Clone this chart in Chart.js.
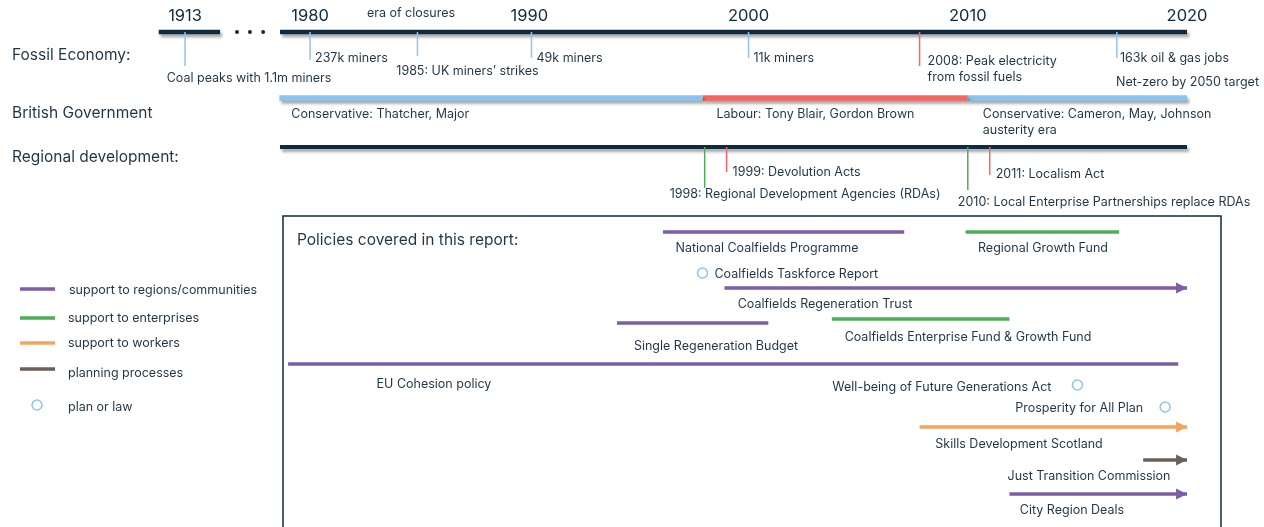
<!DOCTYPE html>
<html><head><meta charset="utf-8">
<script src="https://cdn.jsdelivr.net/npm/chart.js@4.4.1/dist/chart.umd.min.js"></script>
<style>html,body{margin:0;padding:0;background:#fff;overflow:hidden}#wrap{width:1264px;height:527px;position:relative}</style>
</head><body><div id="wrap"><canvas id="c" width="1264" height="527"></canvas></div>
<script>
// ================= DATA =================
const axisYears = [1913, 1980, 1990, 2000, 2010, 2020];
const closureEra = 'era of closures';

const fossilYears  = [1913, 1980, 1984.9, 1990.1, 2000, 2007.8, 2016.8];
const fossilLabels = ['Coal peaks with 1.1m miners', '237k miners', '1985: UK miners’ strikes', '49k miners', '11k miners', ['2008: Peak electricity', 'from fossil fuels'], '163k oil & gas jobs'];
const fossilKinds  = ['jobs', 'jobs', 'jobs', 'jobs', 'jobs', 'peak', 'jobs'];
const netZeroLabel = 'Net-zero by 2050 target';

const govStart  = [1978.6, 1997.9, 2010];
const govEnd    = [1997.9, 2010, 2020];
const govParty  = ['Conservative', 'Labour', 'Conservative'];
const govLabels = [['Conservative: Thatcher, Major'], ['Labour: Tony Blair, Gordon Brown'], ['Conservative: Cameron, May, Johnson', 'austerity era']];

const regionalYears  = [1998, 1999, 2010, 2011];
const regionalLabels = ['1998: Regional Development Agencies (RDAs)', '1999: Devolution Acts', '2010: Local Enterprise Partnerships replace RDAs', '2011: Localism Act'];
const regionalKinds  = ['agency', 'law', 'agency', 'law'];

const policyNames   = ['National Coalfields Programme', 'Regional Growth Fund', 'Coalfields Regeneration Trust', 'Single Regeneration Budget', 'Coalfields Enterprise Fund & Growth Fund', 'EU Cohesion policy', 'Skills Development Scotland', 'Just Transition Commission', 'City Region Deals'];
const policyStart   = [1996.1, 2009.9, 1998.9, 1994.0, 2003.8, 1979.0, 2007.8, 2018.0, 2011.9];
const policyEnd     = [2007.1, 2016.9, 2020, 2000.9, 2011.9, 2019.6, 2020, 2020, 2020];
const policyTypes   = ['regions', 'enterprises', 'regions', 'regions', 'enterprises', 'regions', 'workers', 'planning', 'regions'];
const policyOngoing = [false, false, true, false, false, false, true, true, true];

const planNames = ['Coalfields Taskforce Report', 'Well-being of Future Generations Act', 'Prosperity for All Plan'];
const planYears = [1997.9, 2015.0, 2019.0];

const legendKeys   = ['regions', 'enterprises', 'workers', 'planning', 'plan'];
const legendLabels = ['support to regions/communities', 'support to enterprises', 'support to workers', 'planning processes', 'plan or law'];

const rowTitles = ['Fossil Economy:', 'British Government', 'Regional development:'];
const boxTitle = 'Policies covered in this report:';

// ================= STYLE / LAYOUT =================
const FONT = 'Inter, "Noto Sans", sans-serif';
const TXT = '#1f3649';
const NAVY = '#0e2b41';
const typeColor = {regions: '#7b5ea7', enterprises: '#4caf58', workers: '#f4a45c', planning: '#6c5f58', plan: '#8ec5f0'};
const partyColor = {Conservative: '#8cc3ee', Labour: '#f66561'};
const kindColor = {jobs: '#8ec5f0', peak: '#f66561', agency: '#4caf58', law: '#f66561'};
// axis break: years before 1950 are drawn just left of the continuous scale
const brk = v => v < 1950 ? v + 61.3 : v;
const L = {
  mainY: 32, govY: 98, regY: 147,
  mainStart: 1978.63, earlySeg: [1911.8, 1914.6], breakDots: [1976.67, 1977.26, 1977.86],
  fossilTickEnd: [66, 60, 56, 58, 58, 66, 58],
  fossilLabel: [[64, 78, 'center'], [5, 58, 'left'], [50, 71, 'center'], [5, 58, 'left'], [5, 58, 'left'], [8, 61, 'left'], [3, 58, 'left']],
  netZero: [1116, 82],
  govLabel: [[12, 114], [14, 114], [15, 114]],
  regTickEnd: [188, 172, 190, 175],
  regLabel: [[-35, 194], [6, 172], [-10, 202], [6, 174]],
  policyY: [232, 232, 288, 323, 319, 364, 427, 460, 494],
  policyLabel: [[767, 248], [1043, 248], [825, 304], [716, 346], [968, 337], [434, 384], [1019, 444], [1089, 476], [1072, 510]],
  planY: [273, 385, 407],
  planLabel: [[12, 274, 'left'], [-26, 387, 'right'], [-22, 408, 'right']],
  box: [283, 216, 1221, 540],
  legendY: [289, 318, 343, 369, 405], legendTextY: [290, 318, 343, 373, 407],
  rowTitleY: [55, 113, 157]
};

// ================= DATASETS =================
const datasets = [];
const seg = (x0, x1, y, color, width, extra) => Object.assign({
  data: [{x: x0, y}, {x: x1, y}], borderColor: color, borderWidth: width,
  pointRadius: 0, showLine: true, clip: false, borderCapStyle: 'butt'
}, extra || {});
const vseg = (x, y0, y1, color) => ({
  data: [{x, y: y0}, {x, y: y1}], borderColor: color, borderWidth: 1.5,
  pointRadius: 0, showLine: true, clip: false
});
// vertical marker ticks (drawn first, below main lines)
fossilYears.forEach((yr, i) => datasets.push(vseg(brk(yr), L.mainY, L.fossilTickEnd[i], kindColor[fossilKinds[i]])));
regionalYears.forEach((yr, i) => datasets.push(vseg(yr, L.regY, L.regTickEnd[i], kindColor[regionalKinds[i]])));
// timeline bars
datasets.push(seg(brk(L.earlySeg[0]), brk(L.earlySeg[1]), L.mainY, NAVY, 4.5, {shadow: true}));
datasets.push(seg(L.mainStart, axisYears[axisYears.length - 1], L.mainY, NAVY, 4.5, {shadow: true}));
datasets.push({data: L.breakDots.map(x => ({x, y: L.mainY})), pointRadius: 2, pointBackgroundColor: NAVY, pointBorderWidth: 0, showLine: false, clip: false});
govStart.forEach((s, i) => datasets.push(seg(s, govEnd[i], L.govY, partyColor[govParty[i]], 5.5, {shadow: true})));
datasets.push(seg(L.mainStart, axisYears[axisYears.length - 1], L.regY, NAVY, 4, {shadow: true}));
// policies
policyNames.forEach((n, i) => datasets.push(seg(policyStart[i], policyEnd[i], L.policyY[i], typeColor[policyTypes[i]], 3.5, {arrow: policyOngoing[i], label: n})));
// plans / laws
datasets.push({
  data: planYears.map((x, i) => ({x, y: L.planY[i]})), pointRadius: 5, pointBorderWidth: 1.5,
  pointBorderColor: typeColor.plan, pointBackgroundColor: '#fff', showLine: false, clip: false
});

// ================= PLUGINS =================
function txt(ctx, s, x, y, align, size, color) {
  ctx.save();
  ctx.font = `${size}px ${FONT}`;
  ctx.fillStyle = color || TXT;
  ctx.textAlign = align || 'left';
  ctx.textBaseline = 'middle';
  ctx.fillText(s, x, y);
  ctx.restore();
}
const deco = {
  id: 'deco',
  beforeDatasetsDraw(chart) {
    const ctx = chart.ctx, b = L.box;
    ctx.save();
    ctx.strokeStyle = NAVY; ctx.lineWidth = 1.5;
    ctx.strokeRect(b[0], b[1], b[2] - b[0], b[3] - b[1]);
    ctx.restore();
  },
  beforeDatasetDraw(chart, args) {
    const ds = chart.data.datasets[args.index];
    chart.ctx.save();
    if (ds.shadow) {
      chart.ctx.shadowColor = 'rgba(0,0,0,0.35)';
      chart.ctx.shadowBlur = 3; chart.ctx.shadowOffsetX = 2; chart.ctx.shadowOffsetY = 3;
    }
  },
  afterDatasetDraw(chart) { chart.ctx.restore(); },
  afterDatasetsDraw(chart) {
    const ctx = chart.ctx, X = chart.scales.x, Y = chart.scales.y;
    const px = v => X.getPixelForValue(brk(v)), py = v => Y.getPixelForValue(v);
    // arrowheads
    chart.data.datasets.forEach(ds => {
      if (!ds.arrow) return;
      const p = ds.data[1], x = px(p.x), y = py(p.y);
      ctx.save(); ctx.fillStyle = ds.borderColor; ctx.beginPath();
      ctx.moveTo(x, y); ctx.lineTo(x - 11, y - 5.5); ctx.lineTo(x - 11, y + 5.5); ctx.closePath(); ctx.fill(); ctx.restore();
    });
    // axis year labels
    axisYears.forEach(yr => txt(ctx, String(yr), px(yr), 16, 'center', 16.5, NAVY));
    txt(ctx, closureEra, 411, 13, 'center', 12.5);
    // row titles
    rowTitles.forEach((t, i) => txt(ctx, t, 12, L.rowTitleY[i], 'left', 15.5));
    // fossil labels
    fossilLabels.forEach((lab, i) => {
      const [dx, y, al] = L.fossilLabel[i];
      const lines = Array.isArray(lab) ? lab : [lab];
      lines.forEach((s, j) => txt(ctx, s, px(fossilYears[i]) + dx, y + j * 16.5, al, 12.5));
    });
    txt(ctx, netZeroLabel, L.netZero[0], L.netZero[1], 'left', 12.5);
    govLabels.forEach((lines, i) => lines.forEach((s, j) => txt(ctx, s, px(govStart[i]) + L.govLabel[i][0], L.govLabel[i][1] + j * 16.5, 'left', 12.5)));
    regionalLabels.forEach((s, i) => txt(ctx, s, px(regionalYears[i]) + L.regLabel[i][0], L.regLabel[i][1], 'left', 12.5));
    txt(ctx, boxTitle, 297, 240, 'left', 15.5);
    policyNames.forEach((s, i) => txt(ctx, s, L.policyLabel[i][0], L.policyLabel[i][1], 'center', 12.5));
    planNames.forEach((s, i) => { const [dx, y, al] = L.planLabel[i]; txt(ctx, s, px(planYears[i]) + dx, y, al, 12.5); });
    // legend
    legendKeys.forEach((k, i) => {
      const y = L.legendY[i];
      ctx.save();
      if (k === 'plan') {
        ctx.strokeStyle = typeColor.plan; ctx.lineWidth = 1.5; ctx.beginPath(); ctx.arc(37, y, 5, 0, Math.PI * 2); ctx.stroke();
      } else {
        ctx.strokeStyle = typeColor[k]; ctx.lineWidth = 3.5; ctx.beginPath(); ctx.moveTo(20, y); ctx.lineTo(55, y); ctx.stroke();
      }
      ctx.restore();
      txt(ctx, legendLabels[i], i === 0 ? 69 : 68, L.legendTextY[i], 'left', 12.5);
    });
  }
};

new Chart(document.getElementById('c'), {
  type: 'scatter',
  data: {datasets},
  options: {
    responsive: false, animation: false, devicePixelRatio: 1,
    layout: {padding: 0, autoPadding: false},
    scales: {
      x: {type: 'linear', display: false, min: 1965.86, max: 2023.51},
      y: {type: 'linear', display: false, min: 0, max: 527, reverse: true}
    },
    plugins: {legend: {display: false}, tooltip: {enabled: false}}
  },
  plugins: [deco]
});
</script></body></html>
